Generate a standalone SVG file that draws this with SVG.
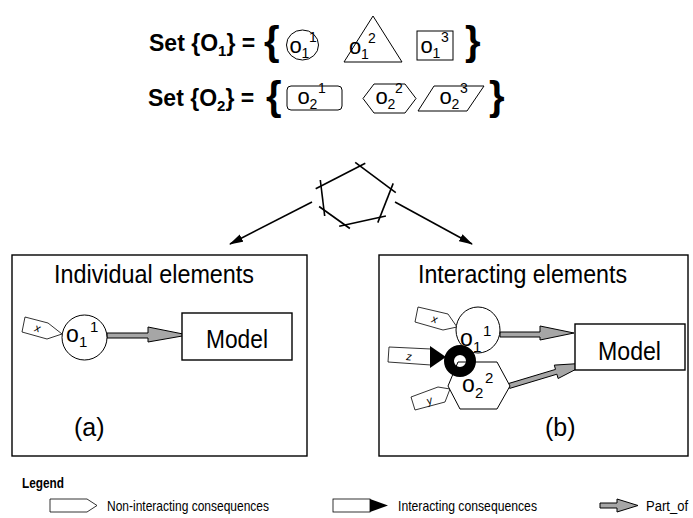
<svg xmlns="http://www.w3.org/2000/svg" width="693" height="518" viewBox="0 0 693 518">
<style>
  .ln{fill:none;stroke:#000;stroke-width:1.6}
  .sh{fill:#fff;stroke:#000;stroke-width:1}
  .bx{fill:none;stroke:#000;stroke-width:1.4}
  .mb{fill:#fff;stroke:#000;stroke-width:1.4}
  .b{font-family:"Liberation Sans",Arial,sans-serif;font-weight:bold;fill:#000}
  .r{font-family:"Liberation Sans",Arial,sans-serif;fill:#000}
  .n{font-family:"Liberation Sans Narrow","Arial Narrow","Liberation Sans",Arial,sans-serif;fill:#000}
  .gray{fill:#a6a6a6;stroke:#000;stroke-width:1}
  .tag{fill:#fff;stroke:#000;stroke-width:0.8}
  .tt{font-family:"Liberation Sans",Arial,sans-serif;font-style:italic;font-size:11px;fill:#000}
</style>
<defs>
  <marker id="ah" markerWidth="14" markerHeight="9" refX="13" refY="4.5" orient="auto" markerUnits="userSpaceOnUse">
    <path d="M0,0.5 L14,4.5 L0,8.5 Z" fill="#000"/>
  </marker>
</defs>
<rect width="693" height="518" fill="#fff"/>

<g id="set1">
  <text class="b" x="149" y="51" font-size="23">Set {O<tspan font-size="15" dy="5">1</tspan><tspan dy="-5">} =</tspan></text>
  <text class="b" x="264" y="55" font-size="40">{</text>
  <text class="b" x="465" y="55" font-size="40">}</text>
</g>
<g id="o11">
  <ellipse class="sh" cx="302.5" cy="45" rx="16" ry="15"/>
  <text class="r" font-size="22" y="53"><tspan x="289.5">o</tspan><tspan x="301.5" dy="5" font-size="14">1</tspan><tspan x="309" dy="-16" font-size="14">1</tspan></text>
</g>
<g id="o12">
  <polygon class="sh" points="373,16 344,62 402,62"/>
  <text class="r" font-size="22" y="54"><tspan x="349">o</tspan><tspan x="361" dy="5" font-size="14">1</tspan><tspan x="368" dy="-16" font-size="14">2</tspan></text>
</g>
<g id="o13">
  <rect class="sh" x="417" y="31" width="36" height="29" stroke-width="1.4"/>
  <text class="r" font-size="22" y="53"><tspan x="420.5">o</tspan><tspan x="432.5" dy="5" font-size="14">1</tspan><tspan x="441" dy="-16" font-size="14">3</tspan></text>
</g>

<g id="set2">
  <text class="b" x="148" y="106" font-size="23">Set {O<tspan font-size="15" dy="5">2</tspan><tspan dy="-5">} =</tspan></text>
  <text class="b" x="266" y="110" font-size="40">{</text>
  <text class="b" x="489" y="110" font-size="40">}</text>
</g>
<g id="o21">
  <rect class="sh" x="287" y="86" width="55" height="24" rx="4"/>
  <text class="r" font-size="22" y="104"><tspan x="297.5">o</tspan><tspan x="309.5" dy="5" font-size="14">2</tspan><tspan x="318" dy="-16" font-size="14">1</tspan></text>
</g>
<g id="o22">
  <polygon class="sh" points="363,98.5 374,84 405,84 416,98.5 405,113 374,113"/>
  <text class="r" font-size="22" y="104"><tspan x="375.5">o</tspan><tspan x="387.5" dy="5" font-size="14">2</tspan><tspan x="395" dy="-16" font-size="14">2</tspan></text>
</g>
<g id="o23">
  <polygon class="sh" points="434,86 484,86 467,111 418,111"/>
  <text class="r" font-size="22" y="104"><tspan x="439.5">o</tspan><tspan x="451.5" dy="5" font-size="14">2</tspan><tspan x="460" dy="-16" font-size="14">3</tspan></text>
</g>

<g id="system">
  <g class="ln" stroke-width="1.8">
    <line x1="315.7" y1="188.7" x2="365.3" y2="163.3"/>
    <line x1="355.2" y1="162.4" x2="395.8" y2="192.6"/>
    <line x1="393.2" y1="183.4" x2="377.8" y2="222.6"/>
    <line x1="385.9" y1="216" x2="339.2" y2="226.3"/>
    <line x1="349.9" y1="228.5" x2="319.1" y2="206.5"/>
    <line x1="324.7" y1="216" x2="320.3" y2="180"/>
  </g>
</g>

<g id="panelA">
  <rect class="bx" x="12" y="255" width="295" height="201"/>
  <text class="n" x="54" y="283" font-size="25" textLength="200" lengthAdjust="spacingAndGlyphs">Individual elements</text>
  <text class="n" x="74" y="436" font-size="25">(a)</text>
</g>
<g id="panelB">
  <rect class="bx" x="379" y="255" width="309" height="201"/>
  <text class="n" x="418" y="283" font-size="25" textLength="209" lengthAdjust="spacingAndGlyphs">Interacting elements</text>
  <text class="n" x="545" y="436" font-size="25">(b)</text>
</g>

<g id="connectors">
  <line class="ln" x1="312" y1="202" x2="230" y2="244" marker-end="url(#ah)"/>
  <line class="ln" x1="395" y1="202" x2="472" y2="244" marker-end="url(#ah)"/>
  <polygon class="gray" points="107,333 148,333 148,327 188,335 148,342 148,338 107,338"/>
  <polygon class="gray" points="500,332 540,332 540,326 574,333 540,340 540,337 500,337"/>
  <polygon class="gray" points="508.3,383.6 555.5,369.4 554.3,365.1 588,363 558.1,378.5 556.9,374.2 509.7,388.4"/>
</g>

<g id="a_x">
  <polygon class="tag" points="22,332 25,317 48,323 62,334 47,339"/>
  <text class="tt" transform="translate(34,331) rotate(15)">x</text>
</g>
<g id="a_o11">
  <ellipse class="sh" cx="84.5" cy="337.5" rx="22.5" ry="22.5"/>
  <text class="r" font-size="23" y="342"><tspan x="66">o</tspan><tspan x="79" dy="5" font-size="15">1</tspan><tspan x="90" dy="-15" font-size="15">1</tspan></text>
</g>
<g id="a_model">
  <rect class="mb" x="182" y="313" width="110" height="47"/>
  <text class="n" x="206" y="348" font-size="26" textLength="62" lengthAdjust="spacingAndGlyphs">Model</text>
</g>

<g id="b_x">
  <polygon class="tag" points="415,322 418,307 448,314 457,327 443,330"/>
  <text class="tt" transform="translate(431,322) rotate(15)">x</text>
</g>
<g id="b_z">
  <polygon class="tag" points="389,347 431,349 431,365 388,362"/>
  <polygon points="430,346 446,357 430,368" fill="#000"/>
  <text class="tt" transform="translate(406,360) rotate(5)">z</text>
</g>
<g id="b_y">
  <polygon class="tag" points="415,410 411,397 438,387 450,389 445,402"/>
  <text class="tt" transform="translate(428,405) rotate(-20)">y</text>
</g>
<g id="b_o11">
  <ellipse class="sh" cx="478" cy="330" rx="22" ry="23"/>
  <text class="r" font-size="23" y="346"><tspan x="460">o</tspan><tspan x="473" dy="6" font-size="15">1</tspan><tspan x="483" dy="-16" font-size="15">1</tspan></text>
</g>
<g id="b_o22">
  <polygon class="sh" points="448,386 458,362 497,362 510,386 497,409 460,409"/>
  <text class="r" font-size="23" y="392"><tspan x="462">o</tspan><tspan x="475" dy="6" font-size="15">2</tspan><tspan x="485" dy="-15" font-size="15">2</tspan></text>
</g>
<g id="b_ring">
  <circle cx="460" cy="361" r="11" fill="none" stroke="#000" stroke-width="10"/>
</g>
<g id="b_model">
  <rect class="mb" x="575" y="324" width="110" height="46"/>
  <text class="n" x="598" y="360" font-size="26" textLength="63" lengthAdjust="spacingAndGlyphs">Model</text>
</g>

<g id="legend">
  <text class="b" x="22" y="488" font-size="14" textLength="42" lengthAdjust="spacingAndGlyphs">Legend</text>
  <polygon class="tag" points="50,499 87,499 97,505.5 87,512 50,512"/>
  <text class="n" x="107" y="511" font-size="15" textLength="162" lengthAdjust="spacingAndGlyphs">Non-interacting consequences</text>
  <rect class="tag" x="333" y="499" width="37" height="13"/>
  <polygon points="370,499 388,505.5 370,512" fill="#000"/>
  <text class="n" x="398" y="511" font-size="15" textLength="139" lengthAdjust="spacingAndGlyphs">Interacting consequences</text>
  <polygon class="gray" points="600,503 617,503 617,499 638,505.5 617,512 617,508 600,508"/>
  <text class="n" x="646" y="511" font-size="14" textLength="42" lengthAdjust="spacingAndGlyphs">Part_of</text>
</g>
</svg>
